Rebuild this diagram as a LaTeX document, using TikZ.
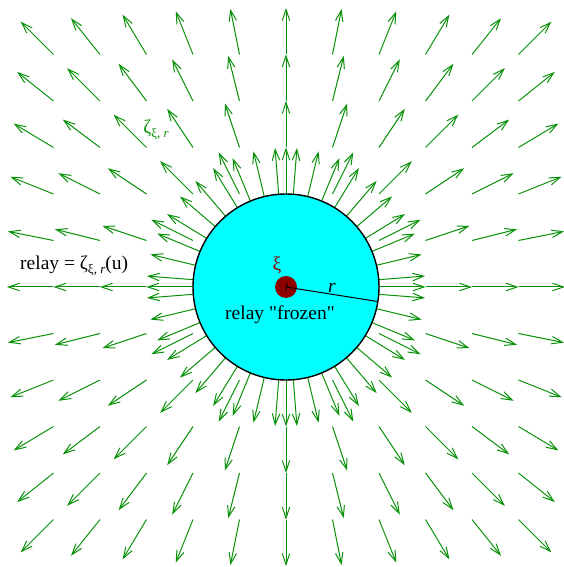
\documentclass[tikz,border=0pt]{standalone}
\usepackage{fontspec}
\setmainfont{Liberation Serif}[Ligatures=TeXOff]
\usetikzlibrary{arrows.meta}
\definecolor{fieldgreen}{RGB}{10,145,10}
\definecolor{dotred}{RGB}{140,0,0}
\definecolor{diskcyan}{RGB}{0,255,255}
\begin{document}
\begin{tikzpicture}[x=1pt,y=1pt,
  fld/.style={fieldgreen, line width=1pt, -{Straight Barb[length=11pt,width=7.5pt]}},
  lbl/.style={font=\fontsize{19.5}{22}\selectfont, inner sep=0pt}]
\useasboundingbox (-286,-280) rectangle (278,287);
\def\s{46.5}
% grid field arrows
\foreach \k in {-5,...,5}{
  \foreach \l in {-5,...,5}{
    \pgfmathsetmacro\d{sqrt(\k*\k+\l*\l)}
    \ifdim\d pt<1.99pt\else
      \pgfmathsetmacro\a{atan2(\l,\k)}
      \draw[fld] (\k*\s,\l*\s) -- ++(\a:\s);
    \fi
  }}
% arrows from the rim
\foreach \i in {0,...,39}{
  \draw[fld] ({4.5+9*\i}:93) -- ({4.5+9*\i}:139.5);
}
\coordinate (c) at (0,0);
\coordinate (rim) at (-9:93);
\draw[fill=diskcyan, line width=1.4pt] (c) circle (93);
\fill[dotred] (c) circle (11);
\draw[line width=1pt, {Bar[width=8pt]}-] (c) -- (rim);
\node[lbl, text=dotred] (xilbl) at (-9,22) {ξ};
\node[lbl, anchor=base] (frozen) at (-6,-33) {relay "frozen"};
\node[lbl] (rlbl) at (46,-1) {\textit{r}};
\node[lbl, anchor=base west] (relay) at (-266,17) {relay = ζ\raisebox{-4pt}{\fontsize{13}{14}\selectfont ξ, \textit{r}}(u)};
\node[lbl, text=fieldgreen] (zeta) at (-130,157) {ζ\raisebox{-4pt}{\fontsize{13}{14}\selectfont ξ, \textit{r}}};
\end{tikzpicture}
\end{document}
